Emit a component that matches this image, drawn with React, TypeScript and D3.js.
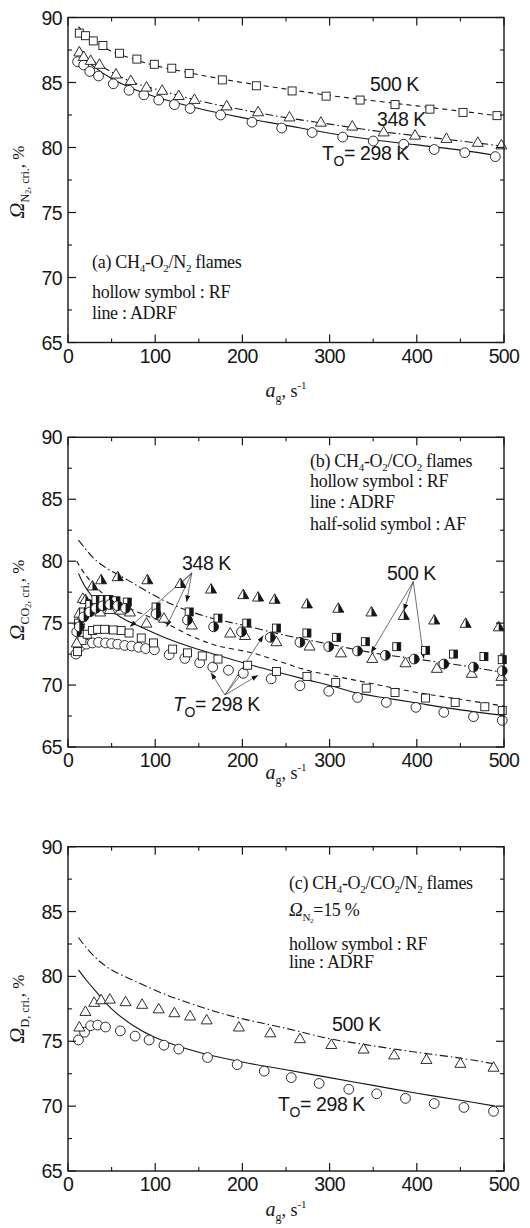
import * as d3 from 'd3';
import React from 'react';

const width = 530;
const height = 1228;
const left = 68;
const right = 504;
const ink = '#161616';
const sans = '"Liberation Sans", Arial, sans-serif';
const serif = '"Liberation Serif", "Times New Roman", serif';

const xTicks = [0, 100, 200, 300, 400, 500];
const xMinor = [50, 150, 250, 350, 450];
const yTicks = [65, 70, 75, 80, 85, 90];
const yMinor = [67.5, 72.5, 77.5, 82.5, 87.5];

// (a) CH4-O2/N2 flames
const aRF298X = [11, 18, 25, 35, 52, 70, 87, 104, 122, 140, 175, 211, 245, 280, 315, 350, 385, 420, 455, 490];
const aRF298Y = [86.6, 86.35, 85.85, 85.5, 84.9, 84.4, 84.05, 83.65, 83.3, 83.0, 82.5, 81.95, 81.5, 81.15, 80.8, 80.5, 80.25, 79.85, 79.6, 79.3];
const aRF348X = [13, 18, 26, 36, 55, 72, 90, 108, 127, 145, 182, 218, 254, 290, 326, 362, 398, 434, 470, 497];
const aRF348Y = [87.35, 87.0, 86.7, 86.4, 85.65, 85.15, 84.65, 84.4, 84.0, 83.7, 83.2, 82.75, 82.35, 81.95, 81.65, 81.2, 80.95, 80.7, 80.4, 80.2];
const aRF500X = [13, 20, 29, 40, 59, 79, 99, 119, 139, 177, 216, 257, 296, 335, 375, 415, 453, 492];
const aRF500Y = [88.8, 88.6, 88.2, 87.85, 87.25, 86.8, 86.4, 86.1, 85.7, 85.2, 84.75, 84.35, 83.95, 83.65, 83.3, 82.95, 82.7, 82.45];
const aAD298X = [12, 20, 30, 50, 75, 100, 150, 200, 250, 300, 350, 400, 450, 490];
const aAD298Y = [87.3, 86.8, 86.2, 85.3, 84.5, 83.9, 83.0, 82.3, 81.7, 81.1, 80.6, 80.2, 79.8, 79.4];
const aAD348X = [12, 20, 30, 50, 75, 100, 150, 200, 250, 300, 350, 400, 450, 500];
const aAD348Y = [87.7, 87.1, 86.6, 85.8, 85.0, 84.5, 83.6, 82.9, 82.3, 81.8, 81.3, 80.9, 80.5, 80.1];
const aAD500X = [12, 20, 30, 50, 75, 100, 150, 200, 250, 300, 350, 400, 450, 497];
const aAD500Y = [89.3, 88.7, 88.2, 87.4, 86.8, 86.3, 85.6, 85.0, 84.5, 84.0, 83.6, 83.2, 82.8, 82.4];

// (b) CH4-O2/CO2 flames
const bRF298X = [9, 14, 21, 28, 35, 43, 50, 57, 65, 73, 81, 89, 99, 116, 134, 151, 166, 184, 201, 233, 266, 299, 332, 365, 399, 431, 465, 498];
const bRF298Y = [72.5, 73.1, 73.3, 73.4, 73.45, 73.4, 73.35, 73.3, 73.2, 73.15, 73.05, 72.95, 72.85, 72.45, 72.15, 71.8, 71.45, 71.2, 70.95, 70.5, 69.95, 69.5, 69.0, 68.6, 68.2, 67.8, 67.45, 67.15];
const bRF348X = [11, 16, 22, 28, 34, 42, 52, 61, 70, 84, 98, 120, 137, 154, 172, 206, 239, 274, 307, 342, 375, 410, 444, 478, 498];
const bRF348Y = [72.7, 73.6, 74.1, 74.4, 74.5, 74.5, 74.45, 74.4, 74.2, 73.8, 73.4, 72.9, 72.6, 72.35, 72.1, 71.6, 71.1, 70.7, 70.2, 69.75, 69.4, 68.95, 68.6, 68.25, 67.95];
const bRF500X = [10, 13, 17, 25, 37, 48, 60, 71, 90, 110, 142, 186, 203, 239, 277, 313, 349, 387, 423, 463, 497];
const bRF500Y = [73.4, 75.2, 77.0, 76.5, 75.9, 76.1, 76.05, 75.9, 75.0, 75.4, 74.85, 74.2, 74.0, 73.5, 73.15, 72.6, 72.15, 71.8, 71.35, 70.95, 70.7];
const bAF298X = [10, 13, 18, 25, 32, 40, 48, 57, 66, 101, 137, 167, 199, 232, 266, 299, 332, 364, 397, 431, 465, 498];
const bAF298Y = [74.3, 74.7, 75.5, 75.9, 76.2, 76.4, 76.5, 76.4, 76.2, 75.75, 75.25, 74.7, 74.3, 73.85, 73.45, 73.1, 72.75, 72.4, 72.1, 71.7, 71.45, 71.15];
const bAF348X = [12, 18, 25, 32, 40, 47, 55, 68, 101, 139, 172, 205, 239, 274, 308, 341, 377, 410, 442, 477, 498];
const bAF348Y = [75.0, 75.9, 76.5, 76.9, 76.9, 76.9, 76.8, 76.7, 76.3, 75.9, 75.4, 75.0, 74.6, 74.2, 73.85, 73.5, 73.1, 72.8, 72.5, 72.3, 72.05];
const bAF500X = [13, 20, 28, 38, 57, 91, 129, 164, 201, 218, 237, 274, 310, 348, 385, 420, 456, 494];
const bAF500Y = [75.8, 76.9, 78.0, 78.5, 78.75, 78.5, 78.2, 77.75, 77.3, 77.1, 76.92, 76.55, 76.2, 75.9, 75.62, 75.25, 74.98, 74.7];
const bAD298X = [12, 20, 30, 45, 60, 80, 112, 140, 170, 216, 243, 270, 304, 332, 365, 400, 450, 500];
const bAD298Y = [79.0, 77.9, 77.0, 76.3, 75.5, 74.8, 73.8, 73.1, 72.45, 71.5, 71.0, 70.5, 69.9, 69.35, 68.95, 68.55, 68.0, 67.55];
const bAD348X = [10, 20, 35, 50, 70, 90, 112, 140, 170, 211, 243, 274, 304, 350, 400, 450, 500];
const bAD348Y = [80.0, 78.9, 77.7, 76.9, 76.2, 75.6, 75.0, 74.0, 73.2, 72.6, 71.9, 71.2, 70.75, 70.1, 69.4, 68.85, 68.3];
const bAD500X = [12, 20, 30, 45, 63, 80, 105, 130, 165, 200, 250, 300, 350, 400, 450, 500];
const bAD500Y = [81.7, 81.0, 80.2, 79.4, 78.7, 78.0, 77.0, 76.2, 75.4, 74.85, 74.0, 73.3, 72.6, 72.1, 71.6, 71.0];
// label pointers: [from, ...targets] in data units
const b348Arrows = [[142, 79.05], [71, 74.7], [113, 74.7], [136, 76.7], [125, 77.9]];
const b500Arrows = [[396, 78.35], [347.5, 72.6], [385, 76.0], [408, 72.15]];
const b298Arrows = [[180, 69.2], [164, 71.0], [201, 71.1], [218, 70.8], [224, 74.0]];

// (c) CH4-O2/CO2/N2 flames
const cRF298X = [12, 19, 26, 34, 43, 60, 77, 93, 110, 127, 160, 194, 225, 256, 288, 322, 354, 387, 420, 454, 488];
const cRF298Y = [75.1, 75.7, 76.2, 76.25, 76.1, 75.8, 75.4, 75.1, 74.7, 74.4, 73.75, 73.2, 72.7, 72.2, 71.75, 71.3, 70.95, 70.6, 70.2, 69.9, 69.6];
const cRF500X = [13, 20, 30, 38, 48, 66, 85, 104, 122, 140, 159, 196, 232, 266, 302, 339, 374, 411, 450, 488];
const cRF500Y = [76.1, 77.3, 78.0, 78.2, 78.25, 78.05, 77.85, 77.5, 77.2, 76.95, 76.65, 76.1, 75.65, 75.2, 74.75, 74.4, 73.95, 73.6, 73.3, 73.0];
const cAD298X = [12, 20, 30, 50, 75, 100, 150, 200, 250, 300, 350, 400, 450, 490];
const cAD298Y = [80.5, 79.8, 79.0, 77.5, 76.2, 75.3, 74.15, 73.4, 72.8, 72.2, 71.6, 71.0, 70.45, 70.0];
const cAD500X = [12, 20, 34, 50, 75, 112, 150, 190, 250, 300, 350, 400, 450, 490];
const cAD500Y = [83.0, 82.3, 81.3, 80.5, 79.7, 78.6, 77.7, 76.9, 76.0, 75.2, 74.65, 74.15, 73.7, 73.25];

type Pt = [number, number];
const zip = (xs: number[], ys: number[]): Pt[] => xs.map((v, i) => [v, ys[i]]);

const dashed = '5,4';
const dashDot = '8,3,1.5,3';

function Sym({ kind, half, cx, cy }: any) {
  const sw = 0.9;
  if (kind === 'circle') {
    const r = 4.9;
    return (
      <g>
        <circle cx={cx} cy={cy} r={r} fill="#fff" stroke={ink} strokeWidth={sw} />
        {half && <path d={`M${cx},${cy - r}A${r},${r} 0 0 1 ${cx},${cy + r}Z`} fill={ink} />}
      </g>
    );
  }
  if (kind === 'square') {
    const s = 8;
    return (
      <g>
        <rect x={cx - s / 2} y={cy - s / 2} width={s} height={s} fill="#fff" stroke={ink} strokeWidth={sw} />
        {half && <rect x={cx} y={cy - s / 2} width={s / 2} height={s} fill={ink} />}
      </g>
    );
  }
  const w = 11;
  const t = cy - 5.5;
  const b = cy + 4;
  return (
    <g>
      <path d={`M${cx},${t}L${cx + w / 2},${b}L${cx - w / 2},${b}Z`} fill="#fff" stroke={ink} strokeWidth={sw} />
      {half && <path d={`M${cx},${t}L${cx + w / 2},${b}L${cx},${b}Z`} fill={ink} />}
    </g>
  );
}

function Panel({ top, bottom, scatter, lines, arrows = [], ySub, yTitleY, xTitleY, notes }: any) {
  const x = d3.scaleLinear().domain([0, 500]).range([left, right]);
  const y = d3.scaleLinear().domain([65, 90]).range([bottom, top]);
  const line = d3.line<Pt>().x(d => x(d[0])).y(d => y(d[1])).curve(d3.curveCatmullRom.alpha(0.5));
  const maj = 8;
  const min = 4;
  return (
    <g>
      {lines.map((l: any, i: number) => (
        <path key={i} d={line(l.pts) || ''} fill="none" stroke={ink} strokeWidth={1.1} strokeDasharray={l.dash} />
      ))}
      {arrows.map((a: number[][], i: number) =>
        a.slice(1).map((t, j) => (
          <line key={i + '-' + j} x1={x(a[0][0])} y1={y(a[0][1])} x2={x(t[0])} y2={y(t[1])}
            stroke="#333" strokeWidth={0.7} markerEnd="url(#arrowHead)" />
        ))
      )}
      {scatter.map((s: any, i: number) =>
        s.pts.map((p: Pt, j: number) => <Sym key={i + '-' + j} kind={s.kind} half={s.half} cx={x(p[0])} cy={y(p[1])} />)
      )}
      <rect x={left} y={top} width={right - left} height={bottom - top} fill="none" stroke={ink} strokeWidth={1.4} />
      {xTicks.map(t => (
        <g key={'xt' + t}>
          <line x1={x(t)} x2={x(t)} y1={bottom} y2={bottom - maj} stroke={ink} strokeWidth={1.2} />
          <line x1={x(t)} x2={x(t)} y1={top} y2={top + maj} stroke={ink} strokeWidth={1.2} />
          <text x={x(t)} y={bottom + 20} textAnchor="middle" fontFamily={sans} fontSize={19.5} letterSpacing={-0.6} fill={ink}>{t}</text>
        </g>
      ))}
      {xMinor.map(t => (
        <g key={'xm' + t}>
          <line x1={x(t)} x2={x(t)} y1={bottom} y2={bottom - min} stroke={ink} strokeWidth={1.1} />
          <line x1={x(t)} x2={x(t)} y1={top} y2={top + min} stroke={ink} strokeWidth={1.1} />
        </g>
      ))}
      {yTicks.map(t => (
        <g key={'yt' + t}>
          <line x1={left} x2={left + maj} y1={y(t)} y2={y(t)} stroke={ink} strokeWidth={1.2} />
          <line x1={right} x2={right - maj} y1={y(t)} y2={y(t)} stroke={ink} strokeWidth={1.2} />
          <text x={left - 6} y={y(t) + 7} textAnchor="end" fontFamily={sans} fontSize={19.5} letterSpacing={-0.6} fill={ink}>{t}</text>
        </g>
      ))}
      {yMinor.map(t => (
        <g key={'ym' + t}>
          <line x1={left} x2={left + min} y1={y(t)} y2={y(t)} stroke={ink} strokeWidth={1.1} />
          <line x1={right} x2={right - min} y1={y(t)} y2={y(t)} stroke={ink} strokeWidth={1.1} />
        </g>
      ))}
      <text transform={`translate(24,${yTitleY}) rotate(-90)`} textAnchor="middle" fontFamily={serif} fill={ink}>
        <tspan fontSize={22} fontStyle="italic">Ω</tspan>
        {ySub}
        <tspan fontSize={17} dy={-5}>, %</tspan>
      </text>
      <text x={(left + right) / 2} y={xTitleY} textAnchor="middle" fontFamily={serif} fill={ink}>
        <tspan fontSize={20} fontStyle="italic">a</tspan>
        <tspan fontSize={12} dy={5}>g</tspan>
        <tspan fontSize={18} dy={-5}>, s</tspan>
        <tspan fontSize={11} dy={-8}>-1</tspan>
      </text>
      {notes}
    </g>
  );
}

const sub = (s: string, size = 11) => <tspan fontSize={size} dy={4}>{s}</tspan>;
const back = (s: string) => <tspan dy={-4}>{s}</tspan>;

function TLabel({ x, y, italic }: any) {
  return (
    <text x={x} y={y} fontFamily={sans} fontSize={19.5} letterSpacing={-0.4} fill={ink}>
      <tspan fontStyle={italic ? 'italic' : 'normal'}>T</tspan>
      <tspan fontSize={14} dy={6}>O</tspan>
      <tspan dy={-6}>= 298 K</tspan>
    </text>
  );
}

function KLabel({ x, y, text }: any) {
  return <text x={x} y={y} fontFamily={sans} fontSize={19.5} letterSpacing={-0.4} fill={ink}>{text}</text>;
}

function Note({ x, y, children }: any) {
  return <text x={x} y={y} fontFamily={serif} fontSize={18} letterSpacing={-0.3} fill={ink}>{children}</text>;
}

export default function App() {
  const panelA = {
    top: 17.5, bottom: 342.5, yTitleY: 182, xTitleY: 397,
    lines: [
      { pts: zip(aAD298X, aAD298Y) },
      { pts: zip(aAD348X, aAD348Y), dash: dashDot },
      { pts: zip(aAD500X, aAD500Y), dash: dashed },
    ],
    scatter: [
      { kind: 'circle', pts: zip(aRF298X, aRF298Y) },
      { kind: 'triangle', pts: zip(aRF348X, aRF348Y) },
      { kind: 'square', pts: zip(aRF500X, aRF500Y) },
    ],
    ySub: <><tspan fontSize={12} dy={5}>N</tspan><tspan fontSize={8} dy={2}>2</tspan><tspan fontSize={12} dy={-2}>, cri.</tspan></>,
    notes: (
      <g>
        <KLabel x={370} y={91} text="500 K" />
        <KLabel x={377} y={126} text="348 K" />
        <TLabel x={322} y={160} />
        <Note x={92} y={268}>(a) CH{sub('4')}{back('-O')}{sub('2')}{back('/N')}{sub('2')}{back(' flames')}</Note>
        <Note x={92} y={298}>hollow symbol : RF</Note>
        <Note x={92} y={319}>line : ADRF</Note>
      </g>
    ),
  };

  const panelB = {
    top: 437.3, bottom: 747, yTitleY: 600, xTitleY: 779,
    lines: [
      { pts: zip(bAD298X, bAD298Y) },
      { pts: zip(bAD348X, bAD348Y), dash: dashed },
      { pts: zip(bAD500X, bAD500Y), dash: dashDot },
    ],
    arrows: [b348Arrows, b500Arrows, b298Arrows],
    scatter: [
      { kind: 'circle', pts: zip(bRF298X, bRF298Y) },
      { kind: 'square', pts: zip(bRF348X, bRF348Y) },
      { kind: 'triangle', pts: zip(bRF500X, bRF500Y) },
      { kind: 'triangle', half: true, pts: zip(bAF500X, bAF500Y) },
      { kind: 'square', half: true, pts: zip(bAF348X, bAF348Y) },
      { kind: 'circle', half: true, pts: zip(bAF298X, bAF298Y) },
    ],
    ySub: <><tspan fontSize={12} dy={5}>CO</tspan><tspan fontSize={8} dy={2}>2</tspan><tspan fontSize={12} dy={-2}>, cri.</tspan></>,
    notes: (
      <g>
        <KLabel x={182} y={570} text="348 K" />
        <KLabel x={387} y={580} text="500 K" />
        <TLabel x={173} y={711} italic />
        <Note x={310} y={467}>(b) CH{sub('4')}{back('-O')}{sub('2')}{back('/CO')}{sub('2')}{back(' flames')}</Note>
        <Note x={310} y={487}>hollow symbol : RF</Note>
        <Note x={310} y={508}>line : ADRF</Note>
        <Note x={310} y={530}>half-solid symbol : AF</Note>
      </g>
    ),
  };

  const panelC = {
    top: 846.7, bottom: 1171, yTitleY: 1009, xTitleY: 1216,
    lines: [
      { pts: zip(cAD298X, cAD298Y) },
      { pts: zip(cAD500X, cAD500Y), dash: dashDot },
    ],
    scatter: [
      { kind: 'circle', pts: zip(cRF298X, cRF298Y) },
      { kind: 'triangle', pts: zip(cRF500X, cRF500Y) },
    ],
    ySub: <><tspan fontSize={12} dy={5}>D, cri.</tspan></>,
    notes: (
      <g>
        <KLabel x={332} y={1031} text="500 K" />
        <TLabel x={278} y={1111} />
        <Note x={289} y={889}>(c) CH{sub('4')}{back('-O')}{sub('2')}{back('/CO')}{sub('2')}{back('/N')}{sub('2')}{back(' flames')}</Note>
        <Note x={289} y={916}>
          <tspan fontStyle="italic" fontSize={19}>Ω</tspan>
          <tspan fontSize={11} dy={5}>N</tspan>
          <tspan fontSize={7} dy={2}>2</tspan>
          <tspan dy={-7}>=15 %</tspan>
        </Note>
        <Note x={289} y={950}>hollow symbol : RF</Note>
        <Note x={289} y={968}>line : ADRF</Note>
      </g>
    ),
  };

  return (
    <svg width={width} height={height} style={{ position: 'absolute', left: 0, top: 0, background: '#fff' }}>
      <defs>
        <marker id="arrowHead" viewBox="0 0 8 6" refX={8} refY={3} markerWidth={7} markerHeight={5}
          markerUnits="userSpaceOnUse" orient="auto">
          <path d="M0,0L8,3L0,6Z" fill={ink} />
        </marker>
      </defs>
      <rect width={width} height={height} fill="#fff" />
      <Panel {...panelA} />
      <Panel {...panelB} />
      <Panel {...panelC} />
    </svg>
  );
}
